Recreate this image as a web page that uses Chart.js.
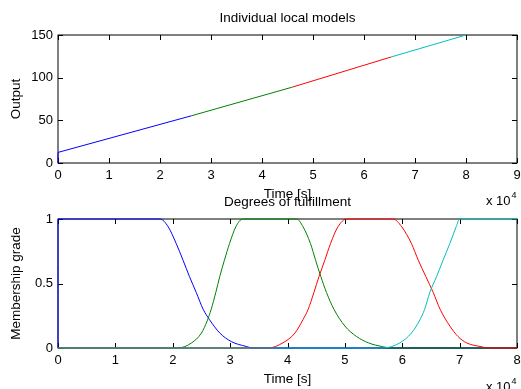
<!DOCTYPE html>
<html>
<head>
<meta charset="utf-8">
<script src="https://cdn.jsdelivr.net/npm/chart.js@4"></script>
<style>
  body { margin: 0; background: #fff; }
  #wrap { position: relative; width: 521px; height: 389px; }
  #wrap canvas { position: absolute; left: 0; top: 0; }
</style>
</head>
<body>
<div id="wrap">
  <canvas id="modelsCvs" width="521" height="389"></canvas>
  <canvas id="gradeCvs" width="521" height="389"></canvas>
</div>
<script>
// time axis is in units of 1e4 s (shown as "x 10^4")
// top: individual local models, one piece per model
const modelBlue  = [[0, 0], [0, 12.4], [2.62, 55.4]];
const modelGreen = [[2.62, 55.4], [4.6, 89]];
const modelRed   = [[4.6, 89], [6.53, 124.2]];
const modelCyan  = [[6.53, 124.2], [8, 150]];
const modelXTicks = [0, 1, 2, 3, 4, 5, 6, 7, 8, 9];
const modelYTicks = [0, 50, 100, 150];

// bottom: degrees of fulfillment (membership grade)
const gradeBlue = [[0, 0], [0, 1], [1.78, 1], [1.92, 0.94], [2.06, 0.81], [2.18, 0.68], [2.29, 0.555],
  [2.41, 0.43], [2.53, 0.30], [2.64, 0.22], [2.82, 0.116], [3.02, 0.05], [3.28, 0.012], [3.4, 0], [8, 0]];
const gradeGreen = [[0, 0], [2.09, 0], [2.33, 0.04], [2.50, 0.116], [2.60, 0.21], [2.67, 0.30], [2.75, 0.43],
  [2.82, 0.555], [2.90, 0.68], [2.99, 0.81], [3.10, 0.94], [3.22, 1], [4.16, 1], [4.27, 0.94], [4.40, 0.81],
  [4.49, 0.68], [4.58, 0.555], [4.68, 0.43], [4.81, 0.30], [5.0, 0.17], [5.2, 0.09], [5.41, 0.04],
  [5.66, 0.01], [5.8, 0], [8, 0]];
const gradeRed = [[0, 0], [3.66, 0], [3.92, 0.04], [4.13, 0.116], [4.27, 0.22], [4.36, 0.30], [4.46, 0.43],
  [4.55, 0.555], [4.65, 0.68], [4.75, 0.81], [4.88, 0.94], [5.03, 1], [5.84, 1], [5.99, 0.94], [6.16, 0.81],
  [6.28, 0.68], [6.41, 0.555], [6.54, 0.43], [6.66, 0.30], [6.83, 0.17], [6.97, 0.09], [7.12, 0.04],
  [7.38, 0.01], [7.5, 0], [8, 0]];
const gradeCyan = [[0, 0], [5.66, 0], [5.96, 0.04], [6.16, 0.116], [6.31, 0.22], [6.39, 0.30], [6.48, 0.43],
  [6.60, 0.555], [6.71, 0.68], [6.83, 0.81], [6.94, 0.94], [7.0, 1], [8, 1]];
const gradeXTicks = [0, 1, 2, 3, 4, 5, 6, 7, 8];
const gradeYTicks = [0, 0.5, 1];

const BLUE = '#0000ff', GREEN = '#008000', RED = '#ff0000', CYAN = '#00bfbf';

Chart.defaults.font.family = '"Liberation Sans", Arial, sans-serif';
Chart.defaults.color = '#000';

// matlab style box with inward ticks + "x 10^4" note
const matlabBox = {
  id: 'matlabBox',
  beforeDatasetsDraw(chart) {
    const { ctx, chartArea: a, scales } = chart;
    ctx.save();
    ctx.strokeStyle = '#000';
    ctx.lineWidth = 1;
    ctx.strokeRect(a.left, a.top, a.right - a.left, a.bottom - a.top);
    ctx.beginPath();
    scales.x.ticks.forEach(t => {
      const px = Math.round(scales.x.getPixelForValue(t.value)) + 0.5;
      ctx.moveTo(px, a.bottom); ctx.lineTo(px, a.bottom - 5);
      ctx.moveTo(px, a.top); ctx.lineTo(px, a.top + 5);
    });
    scales.y.ticks.forEach(t => {
      const py = Math.round(scales.y.getPixelForValue(t.value)) + 0.5;
      ctx.moveTo(a.left, py); ctx.lineTo(a.left + 5, py);
      ctx.moveTo(a.right, py); ctx.lineTo(a.right - 5, py);
    });
    ctx.stroke();
    ctx.restore();
  },
  afterDraw(chart, args, opts) {
    const { ctx, chartArea: a } = chart;
    ctx.save();
    ctx.fillStyle = '#000';
    ctx.font = '13px "Liberation Sans"';
    const x0 = a.right - 31;
    ctx.fillText('x 10', x0, opts.baseline);
    const w = ctx.measureText('x 10').width;
    ctx.font = '9px "Liberation Sans"';
    ctx.fillText('4', x0 + w + 1, opts.baseline - 7);
    ctx.restore();
  }
};

function line(pts, color, smooth) {
  const ds = {
    data: pts.map(p => ({ x: p[0], y: p[1] })),
    borderColor: color,
    borderWidth: 1,
    pointRadius: 0,
    tension: 0,
    fill: false,
    clip: 3
  };
  if (smooth) ds.cubicInterpolationMode = 'monotone';
  return ds;
}

function axes(xTicks, yTicks, xMax, yMax, yLabel) {
  return {
    x: {
      type: 'linear', min: 0, max: xMax,
      grid: { display: false, drawTicks: false },
      border: { display: false },
      afterBuildTicks: s => { s.ticks = xTicks.map(v => ({ value: v })); },
      ticks: { padding: 5, font: { size: 13 }, maxRotation: 0, autoSkip: false, callback: v => String(v) },
      title: { display: true, text: 'Time [s]', font: { size: 13.5 }, padding: 0 },
      afterFit: s => { s.height = 39; s.paddingLeft = 0; s.paddingRight = 0; }
    },
    y: {
      type: 'linear', min: 0, max: yMax,
      grid: { display: false, drawTicks: false },
      border: { display: false },
      afterBuildTicks: s => { s.ticks = yTicks.map(v => ({ value: v })); },
      ticks: { padding: 5, font: { size: 13 }, autoSkip: false, callback: v => String(v) },
      title: { display: true, text: yLabel, font: { size: 13.5 }, padding: { top: 8, bottom: 0 } },
      afterFit: s => { s.width = 58; s.paddingTop = 0; s.paddingBottom = 0; }
    }
  };
}

const modelsChart = new Chart(document.getElementById('modelsCvs').getContext('2d'), {
  type: 'line',
  data: {
    datasets: [line(modelCyan, CYAN), line(modelRed, RED), line(modelGreen, GREEN), line(modelBlue, BLUE)]
  },
  options: {
    responsive: false,
    animation: false,
    layout: { padding: { top: 0, left: 0, right: 4, bottom: 187 } },
    scales: axes(modelXTicks, modelYTicks, 9, 150, 'Output'),
    plugins: {
      legend: { display: false },
      tooltip: { enabled: false },
      title: {
        display: true, text: 'Individual local models', fullSize: false,
        font: { size: 13.5, weight: 'normal' }, padding: { top: 10, bottom: 8.8 }
      },
      matlabBox: { baseline: 205 }
    }
  },
  plugins: [matlabBox]
});

const gradeChart = new Chart(document.getElementById('gradeCvs').getContext('2d'), {
  type: 'line',
  data: {
    datasets: [line(gradeCyan, CYAN, true), line(gradeRed, RED, true), line(gradeGreen, GREEN, true), line(gradeBlue, BLUE, true)]
  },
  options: {
    responsive: false,
    animation: false,
    layout: { padding: { top: 185, left: 0, right: 4, bottom: 2 } },
    scales: axes(gradeXTicks, gradeYTicks, 8, 1, 'Membership grade'),
    plugins: {
      legend: { display: false },
      tooltip: { enabled: false },
      title: {
        display: true, text: 'Degrees of fulfillment', fullSize: false,
        font: { size: 13.5, weight: 'normal' }, padding: { top: 8.9, bottom: 8.9 }
      },
      matlabBox: { baseline: 391 }
    }
  },
  plugins: [matlabBox]
});
</script>
</body>
</html>
